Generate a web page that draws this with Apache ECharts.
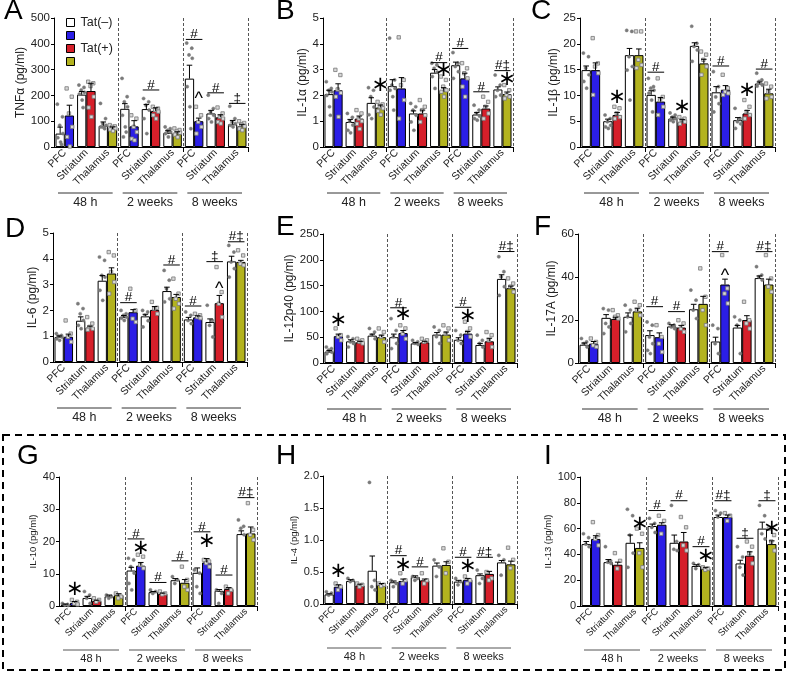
<!DOCTYPE html>
<html><head><meta charset="utf-8">
<script src="https://cdn.jsdelivr.net/npm/echarts@6/dist/echarts.min.js"></script>
<style>html,body{margin:0;padding:0;background:#fff}#c{width:789px;height:675px}</style>
</head><body><div id="c"></div>
<script>
// ---------- data ----------
const categories = ['PFC','Striatum','Thalamus','PFC','Striatum','Thalamus','PFC','Striatum','Thalamus'];
const timeLabels = ['48 h','2 weeks','8 weeks'];
const seriesNames = ['Tat(–)','Tat(+) PFC','Tat(+)','Tat(+) Thalamus'];

// A: TNFα
const tnfWhite = [52,203,82, 148,147,55, 265,130,88];
const tnfWhiteErr = [25,12,15, 20,18,8, 52,12,15];
const tnfPlus = [122,217,70, 80,140,52, 100,115,80];
const tnfPlusErr = [40,30,8, 22,12,7, 12,10,8];
const tnfWhitePts = [[166,117,84,52,36,19,10],[240,231,221,212,205,182,153],[169,110,91,84,78,76,71],[266,195,175,156,123,78,58,39],[188,175,162,143,110,52],[78,71,65,58,52,39],[403,383,357,344,234,156,71],[201,149,136,123,110,97],[158,110,97,91,84,78]];
const tnfPlusPts = [[227,195,130,78,39,2],[253,247,236,195,153,117],[85,80,78,72,68,62],[123,110,78,58,32,26],[156,149,143,137,123,110],[72,66,60,55,48,38],[156,123,97,78,52],[153,130,117,110,97,91],[100,93,88,80,71,65]];
const tnfAnn = [[4,221,'#','pair'],[6,417,'#','pair'],[6,201,'^','plus'],[7,210,'#','pair'],[8,169,'‡','pair']];

// B: IL-1α
const il1aWhite = [2.05,0.97,1.71, 2.36,1.3,2.88, 3.17,1.26,2.23];
const il1aWhiteErr = [0.15,0.1,0.2, 0.25,0.1,0.12, 0.12,0.08,0.1];
const il1aPlus = [2.2,1.1,1.53, 2.27,1.3,2.18, 2.66,1.49,2.05];
const il1aPlusErr = [0.25,0.1,0.1, 0.42,0.13,0.12, 0.2,0.1,0.08];
const il1aWhitePts = [[2.53,2.27,2.2,2.14,2.0,1.56,1.23],[1.3,1.15,1.0,0.85,0.65,0.55],[2.3,2.2,1.95,1.55,1.25,1.1],[4.22,2.6,2.4,2.27,2.2,1.95,1.43],[1.69,1.56,1.43,1.23,0.97,0.65],[3.25,3.18,3.05,2.9,2.73,2.27],[3.66,3.25,3.12,2.92,2.66],[1.62,1.43,1.3,1.2,1.1,1.04],[2.79,2.4,2.2,2.01,1.95]];
const il1aPlusPts = [[2.99,2.79,2.23,2.1,1.95,1.17],[1.43,1.3,1.1,1.0,0.9,0.7],[1.75,1.65,1.55,1.5,1.4,1.25],[4.25,2.6,2.4,1.82,1.1],[1.82,1.56,1.43,1.23,0.97],[2.73,2.6,2.34,2.2,2.14,1.95],[3.25,3.05,2.86,2.66,2.34,1.95],[1.95,1.75,1.56,1.3,1.1],[2.4,2.2,2.01,1.95,1.88]];
const il1aAnn = [[2,2.4,'*','plus'],[5,3.27,'#','pair'],[5,2.98,'*','plus'],[6,3.82,'#','pair'],[7,2.14,'#','pair'],[8,2.96,'#‡','pair'],[8,2.6,'*','plus']];

// C: IL-1β
const il1bWhite = [14.9,5.0,17.8, 10.1,5.5,19.6, 10.6,5.2,12.3];
const il1bWhiteErr = [0.8,0.4,1.3, 0.8,0.3,0.6, 1.1,0.5,0.3];
const il1bPlus = [14.9,6.2,17.8, 8.8,4.8,16.2, 11.1,6.5,10.4];
const il1bPlusErr = [1.4,0.5,1.2, 0.8,0.5,0.8, 0.8,0.6,0.8];
const il1bWhitePts = [[18.2,17.5,15.3,14,12.7,11.4],[6.2,5.5,4.9,4.2,3.9,3.6],[22.6,22.4,17.5,15.6,14.9,9.1],[13.3,11.7,11.4,11,10.4,9.1,6.8],[6.6,6.2,5.8,5.5,5.2,4.9],[23.4,20.1,19.5,18.8,16.6],[14.6,11.7,9.7,8.4,6.8],[7.5,5.5,4.9,4.5,3.6],[14.3,13,12.7,12,11.8]];
const il1bPlusPts = [[21.1,16.2,15.6,14.3,10.1],[7.8,7.5,6.5,5.8,5.5],[22.4,22.4,16.9,15.9,15.3],[13.3,9.7,9.1,7.8,6.2],[5.8,5.5,5.2,4.9,4.5],[18.5,17.9,16.9,15.6,14],[14,11.4,10.7,10.4,10.1],[9.1,7.8,6.8,6.2,5.5],[12.3,11.7,10.7,9.7,9.4]];
const il1bAnn = [[1,9.6,'*','plus'],[3,14.5,'#','pair'],[4,7.7,'*','plus'],[6,15.7,'#','pair'],[7,11.0,'*','plus'],[8,15.1,'#','pair']];

// D: IL-6
const il6White = [0.97,1.6,3.15, 1.75,1.77,2.75, 1.65,1.55,3.9];
const il6WhiteErr = [0.04,0.15,0.2, 0.05,0.08,0.15, 0.08,0.12,0.2];
const il6Plus = [0.98,1.33,3.43, 1.93,2.02,2.52, 1.73,2.28,3.88];
const il6PlusErr = [0.1,0.06,0.22, 0.1,0.13,0.1, 0.06,0.3,0.06];
const il6WhitePts = [[1.1,1.03,1.0,0.97,0.9,0.84],[2.26,2.07,1.87,1.61,1.42,1.29],[4.07,3.94,3.36,3.29,2.78,2.39],[2.0,1.87,1.81,1.74,1.7,1.61],[2.0,1.94,1.81,1.6,1.36],[3.55,3.17,2.84,2.45,2.33],[1.94,1.81,1.61,1.49],[2.2,1.61,1.42,0.97],[4.52,4.26,3.88,3.62,3.29]];
const il6PlusPts = [[1.61,1.1,0.97,0.78],[1.74,1.49,1.36,1.29,1.25],[4.26,4.13,3.49,3.1,2.65],[2.84,2.0,1.68,1.55],[2.33,2.1,2.07,1.87],[3.23,2.65,2.45,2.26,2.07],[1.87,1.81,1.74,1.7],[3.68,2.71,2.26,1.74],[4.33,4.13,3.81,3.75]];
const il6Ann = [[3,2.3,'#','pair'],[5,3.76,'#','pair'],[6,2.17,'#','pair'],[7,3.89,'‡','pair'],[7,2.98,'^','plus'],[8,4.66,'#‡','pair']];

// E: IL-12p40
const il12White = [22,42,53, 50,38,55, 45,35,163];
const il12WhiteErr = [2,3,3, 6,1.5,4, 4,3,8];
const il12Plus = [52,40,50, 58,40,55, 57,42,145];
const il12PlusErr = [4,2,4, 5,2,5, 4,6,4];
const il12WhitePts = [[31,28,25,21,18],[51,47,41,38,31],[67,60,54,47],[86,63,51,38,28],[44,41,38,36],[70,63,51,38],[63,54,44,38],[54,44,38,31],[206,177,167,148,131]];
const il12PlusPts = [[67,54,51,44],[47,44,41,38],[67,60,51,41],[73,67,57,47],[47,44,41],[73,67,57,44],[80,67,60,51],[60,54,44,31],[164,154,148,138]];
const il12Ann = [[0,83,'*','plus'],[3,107,'#','pair'],[3,93,'*','plus'],[6,108,'#','pair'],[6,90,'*','plus'],[8,216,'#‡','pair']];

// F: IL-17A
const il17White = [8.5,21,21.5, 13,17,25, 10,16.5,39.5];
const il17WhiteErr = [0.8,1.5,1.8, 2,0.8,2.3, 2,1,1];
const il17Plus = [9,20.5,24, 12,16.5,27.5, 36.5,20,36.5];
const il17PlusErr = [1,0.8,1.5, 2,1,3.5, 2.5,2,2.5];
const il17WhitePts = [[11.4,9.8,9,7.5],[25.3,24.6,18.4,16.8,13.7],[26.9,24.6,21.5,18.4,14.5],[19.1,17.6,12.1,9,5.9,4.4],[18.4,17.6,16.8,16],[33.9,29.2,24.6,20.7],[17.6,16,9,4.4],[21.5,19.9,17.6,4.4],[44.8,40.9,40.1,38.6]];
const il17PlusPts = [[11.4,9.8,8.2,7.5],[24.6,22.2,21.5,20.7],[28.5,26.9,24.6,22.2],[17.6,12.1,9,5.1],[19.9,18.4,16,14.5],[44,30.8,24.6,17.6],[50.2,34.7,32.3,27.7],[28.5,19.9,18.4,16],[50.2,39.3,35.5,33.1]];
const il17Ann = [[3,26.2,'#','pair'],[4,23.9,'#','pair'],[6,51.8,'#','pair'],[6,42.5,'^','plus'],[8,51.8,'#‡','pair']];

// G: IL-10
const il10White = [0.4,2.5,3, 11,4.3,8, 10.3,4.7,22.3];
const il10WhiteErr = [0.2,0.5,0.4, 1,0.2,0.5, 1.5,0.4,1];
const il10Plus = [1.0,1.6,3.4, 12.5,3.8,7.2, 13.5,5.3,22.5];
const il10PlusErr = [0.4,0.2,0.4, 1,0.2,1, 1.2,0.4,2];
const il10WhitePts = [[0.8,0.5,0.3,0.2],[4.5,3.4,2.4,0.8],[3.4,2.9,2.4],[14.8,14.3,12.2,10.2,7,5],[5,4.5,3.9],[9.1,8.1,7],[11.2,10.2,6,3.9],[5,3.9,0.8],[26.7,24.7,24.1,22.1]];
const il10PlusPts = [[1.9,1.3,0.8,0.5],[2.4,1.9,1.3],[3.9,2.9,2.4],[15.9,15.3,12.7,11.7],[4.5,3.9,3.6],[12.2,8.1,6,5],[14.3,13.8,13.3,12.2],[6,5,3.9],[31.9,23.6,22.1,20.5]];
const il10Ann = [[0,5,'*','plus'],[3,20.8,'#','pair'],[3,17.9,'*','plus'],[4,7.3,'#','pair'],[5,14,'#','pair'],[6,23,'#','pair'],[6,19.9,'*','plus'],[7,9.6,'#','pair'],[8,33.6,'#‡','pair']];

// H: IL-4
const il4White = [0.15,0.36,0.52, 0.34,0.42,0.6, 0.35,0.45,0.65];
const il4WhiteErr = [0.01,0.02,0.23, 0.02,0.02,0.04, 0.02,0.02,0.03];
const il4Plus = [0.27,0.29,0.3, 0.36,0.37,0.61, 0.38,0.47,0.62];
const il4PlusErr = [0.03,0.02,0.02, 0.03,0.02,0.05, 0.02,0.04,0.05];
const il4WhitePts = [[0.19,0.17,0.14],[0.4,0.37,0.35],[1.9,0.37,0.27,0.22],[0.37,0.32,0.27],[0.43,0.4,0.37],[0.69,0.58,0.43],[0.4,0.35,0.3],[0.53,0.4,0.32],[0.76,0.69,0.45]];
const il4PlusPts = [[0.32,0.27,0.22],[0.32,0.3,0.27],[0.32,0.3,0.28],[0.48,0.37,0.32],[0.48,0.37,0.32],[0.87,0.66,0.48],[0.43,0.37,0.32],[0.5,0.4,0.37],[0.88,0.69,0.56]];
const il4Ann = [[0,0.5,'*','plus'],[3,0.755,'#','pair'],[3,0.6,'*','plus'],[4,0.58,'#','pair'],[6,0.73,'#','pair'],[6,0.58,'*','plus'],[7,0.73,'#‡','pair']];

// I: IL-13
const il13White = [48,34,49, 62,49,31, 69,33,60];
const il13WhiteErr = [2,2,6, 1.5,6,1, 1.5,2.5,5];
const il13Plus = [52,32,45, 63,50,29, 69,39,48];
const il13PlusErr = [2.5,2,4, 1.5,7,1, 1.5,3,2.5];
const il13WhitePts = [[56,53,48,46],[46,35,34,33],[75,70,55,41,30],[68,64,61,57],[78,50,44,43],[33,32,29],[74,72,69],[46,38,30,24],[78,70,56,52]];
const il13PlusPts = [[65,55,52,47],[41,35,29],[60,56,41,30],[70,66,56],[69,61,47,43],[30,29,28],[72,70,66],[50,46,41,33],[60,55,50,43]];
const il13Ann = [[2,63,'*','plus'],[3,74,'#','pair'],[4,81.6,'#','pair'],[5,46,'#','pair'],[5,38,'*','plus'],[6,81.6,'#‡','pair'],[7,52.5,'‡','pair'],[8,81.6,'‡','pair'],[8,60,'*','plus']];

// ---------- layout ----------
const FONT = 'Liberation Sans, Arial, sans-serif';
const COLORS = ['#ffffff','#2b1ee6','#d61f2a','#b3b31f'];
const GAP = 0.14;
const panels = [
 {letter:'A', name:'TNFα (pg/ml)', max:500, interval:100, white:tnfWhite, whiteErr:tnfWhiteErr, plus:tnfPlus, plusErr:tnfPlusErr, wp:tnfWhitePts, pp:tnfPlusPts, ann:tnfAnn, left:54, right:248, top:18, bottom:147, nameGap:22, row:0},
 {letter:'B', name:'IL-1α (pg/ml)', max:5, interval:1, white:il1aWhite, whiteErr:il1aWhiteErr, plus:il1aPlus, plusErr:il1aPlusErr, wp:il1aWhitePts, pp:il1aPlusPts, ann:il1aAnn, left:323, right:513, top:18, bottom:147, nameGap:11, row:0},
 {letter:'C', name:'IL-1β (pg/ml)', max:25, interval:5, white:il1bWhite, whiteErr:il1bWhiteErr, plus:il1bPlus, plusErr:il1bPlusErr, wp:il1bWhitePts, pp:il1bPlusPts, ann:il1bAnn, left:580, right:775, top:18, bottom:147, nameGap:17, row:0},
 {letter:'D', name:'IL-6 (pg/ml)', max:5, interval:1, white:il6White, whiteErr:il6WhiteErr, plus:il6Plus, plusErr:il6PlusErr, wp:il6WhitePts, pp:il6PlusPts, ann:il6Ann, left:53, right:247, top:233, bottom:362, nameGap:11, row:1},
 {letter:'E', name:'IL-12p40 (pg/ml)', max:250, interval:50, white:il12White, whiteErr:il12WhiteErr, plus:il12Plus, plusErr:il12PlusErr, wp:il12WhitePts, pp:il12PlusPts, ann:il12Ann, left:323, right:517, top:234, bottom:363, nameGap:25, row:1},
 {letter:'F', name:'IL-17A (pg/ml)', max:60, interval:20, white:il17White, whiteErr:il17WhiteErr, plus:il17Plus, plusErr:il17PlusErr, wp:il17WhitePts, pp:il17PlusPts, ann:il17Ann, left:578, right:775, top:234, bottom:363, nameGap:16, row:1},
 {letter:'G', name:'IL-10 (pg/ml)', max:40, interval:10, white:il10White, whiteErr:il10WhiteErr, plus:il10Plus, plusErr:il10PlusErr, wp:il10WhitePts, pp:il10PlusPts, ann:il10Ann, left:59, right:257, top:477, bottom:606, nameGap:21, row:2},
 {letter:'H', name:'IL-4 (pg/ml)', max:2, interval:0.5, white:il4White, whiteErr:il4WhiteErr, plus:il4Plus, plusErr:il4PlusErr, wp:il4WhitePts, pp:il4PlusPts, ann:il4Ann, left:323, right:517, top:476, bottom:604, nameGap:20, row:2, fmt:v=>v.toFixed(1)},
 {letter:'I', name:'IL-13 (pg/ml)', max:100, interval:20, white:il13White, whiteErr:il13WhiteErr, plus:il13Plus, plusErr:il13PlusErr, wp:il13WhitePts, pp:il13PlusPts, ann:il13Ann, left:580, right:778, top:477, bottom:606, nameGap:25, row:2}
];
const letterPos = [[4,12.5],[276,12.5],[531,12.5],[5,230],[276,228],[534,228],[17,457],[276,457],[544,457]];

const sepAt = (idx) => idx === 3 || idx === 6;

const grid = [], xAxis = [], yAxis = [], series = [];
panels.forEach((p, i) => {
  const small = p.row === 2;
  grid.push({left:p.left, top:p.top, width:p.right - p.left, height:p.bottom - p.top});
  xAxis.push({
    gridIndex:i, type:'category', data:categories, boundaryGap:true,
    axisLine:{lineStyle:{color:'#000', width:1}},
    axisTick:{show:true, interval:(idx)=>sepAt(idx), length:5, lineStyle:{color:'#000'}},
    axisLabel:{interval:0, rotate:45, fontSize: small ? 9.5 : 10.5, color:'#222', fontFamily:FONT, margin:4},
    splitLine:{show:true, interval:(idx)=>sepAt(idx), lineStyle:{type:[3,2], color:'#555', width:1}}
  });
  yAxis.push({
    gridIndex:i, type:'value', min:0, max:p.max, interval:p.interval,
    name:p.name, nameLocation:'middle', nameRotate:90, nameGap:p.nameGap,
    nameTextStyle:{fontSize: small ? 9.5 : 12, color:'#222', fontFamily:FONT},
    axisLine:{show:true, lineStyle:{color:'#000', width:1}},
    axisTick:{show:true, length:3, lineStyle:{color:'#000'}},
    axisLabel:{fontSize: small ? 11 : 11.5, color:'#222', fontFamily:FONT, margin:4, formatter:p.fmt},
    splitLine:{show:false}
  });
  const common = {type:'bar', xAxisIndex:i, yAxisIndex:i, barGap:'0%', barCategoryGap:(GAP*100)+'%', animation:false};
  series.push(Object.assign({}, common, {name:seriesNames[0], data:p.white,
    itemStyle:{color:COLORS[0], borderColor:'#000', borderWidth:1}}));
  for (let r = 0; r < 3; r++) {
    series.push(Object.assign({}, common, {name:seriesNames[r+1], stack:'plus'+i,
      data:p.plus.map((v,k)=> k % 3 === r ? v : '-'),
      itemStyle:{color:COLORS[r+1], borderColor:'#000', borderWidth:1}}));
  }
  // individual animals (circles on Tat(-), squares on Tat(+))
  const ptData = [];
  for (let k = 0; k < 9; k++) {
    p.wp[k].forEach((v, j) => ptData.push([k, v, 0, j, p.wp[k].length]));
    p.pp[k].forEach((v, j) => ptData.push([k, v, 1, j, p.pp[k].length]));
  }
  series.push({type:'custom', xAxisIndex:i, yAxisIndex:i, data:ptData, encode:{x:0, y:1}, clip:false, silent:true, z:4, animation:false,
    renderItem:(params, api) => {
      const c = api.coord([api.value(0), api.value(1)]);
      const slot = api.value(2), j = api.value(3);
      const bw = api.size([1,0])[0] * (1 - GAP) / 2;
      const spread = [-0.3, 0.25, -0.05, 0.3, -0.25, 0.05, 0.15, -0.15][j % 8];
      const x = c[0] + (slot === 0 ? -bw/2 : bw/2) + spread * bw;
      if (slot === 0) return {type:'circle', shape:{cx:x, cy:c[1], r:1.6}, style:{fill:'#7a7a7a', stroke:'#7a7a7a', lineWidth:0.5}};
      return {type:'rect', shape:{x:x-1.7, y:c[1]-1.7, width:3.4, height:3.4}, style:{fill:'#d8d8d8', stroke:'#777', lineWidth:0.8}};
    }});
  // error bars
  const errData = [];
  for (let k = 0; k < 9; k++) { errData.push([k, p.white[k], p.whiteErr[k], 0]); errData.push([k, p.plus[k], p.plusErr[k], 1]); }
  series.push({type:'custom', xAxisIndex:i, yAxisIndex:i, data:errData, encode:{x:0, y:1}, clip:false, silent:true, z:5, animation:false,
    renderItem:(params, api) => {
      const cat = api.value(0), top = api.value(1), err = api.value(2), slot = api.value(3);
      const p0 = api.coord([cat, top]), p1 = api.coord([cat, top + err]);
      const bw = api.size([1,0])[0] * (1 - GAP) / 2;
      const x = p0[0] + (slot === 0 ? -bw/2 : bw/2);
      const cap = bw * 0.3;
      return {type:'group', children:[
        {type:'line', shape:{x1:x, y1:p0[1], x2:x, y2:p1[1]}, style:{stroke:'#000', lineWidth:1}},
        {type:'line', shape:{x1:x-cap, y1:p1[1], x2:x+cap, y2:p1[1]}, style:{stroke:'#000', lineWidth:1}}
      ]};
    }});
  // significance annotations
  const ann = p.ann;
  series.push({type:'custom', xAxisIndex:i, yAxisIndex:i, data:ann.map(a=>[a[0], a[1]]), encode:{x:0, y:1}, clip:false, silent:true, z:6, animation:false,
    renderItem:(params, api) => {
      const a = ann[params.dataIndex];
      const c = api.coord([api.value(0), api.value(1)]);
      const bw = api.size([1,0])[0] * (1 - GAP) / 2;
      if (a[3] === 'pair') {
        return {type:'group', children:[
          {type:'line', shape:{x1:c[0]-bw+1, y1:c[1], x2:c[0]+bw-1, y2:c[1]}, style:{stroke:'#000', lineWidth:1}},
          {type:'text', style:{text:a[2], x:c[0], y:c[1]+2, textAlign:'center', textVerticalAlign:'bottom', font:'13.5px '+FONT, fill:'#000'}}
        ]};
      }
      const isStar = a[2] === '*';
      const fs = isStar ? 21 : 18;
      return {type:'text', style:{text: isStar ? '∗' : a[2], x:c[0]+bw/2, y:c[1] + (isStar ? 0 : fs*0.22), textAlign:'center', textVerticalAlign:'middle',
        font: fs + 'px ' + (isStar ? 'DejaVu Sans' : FONT), fill:'#000'}};
    }});
  // time group labels
  const off = p.row === 2 ? 44 : 46;
  series.push({type:'custom', xAxisIndex:i, yAxisIndex:i, data:[[1,0],[4,0],[7,0]], encode:{x:0, y:1}, clip:false, silent:true, animation:false,
    renderItem:(params, api) => {
      const c = api.coord([api.value(0), 0]);
      const cw = api.size([1,0])[0];
      const y = c[1] + off;
      return {type:'group', children:[
        {type:'line', shape:{x1:c[0]-1.5*cw+4, y1:y, x2:c[0]+1.5*cw-6, y2:y}, style:{stroke: small ? '#555' : '#333', lineWidth:1}},
        {type:'text', style:{text:timeLabels[params.dataIndex], x:c[0]-1, y:y+3, textAlign:'center', textVerticalAlign:'top', font:(small?11:12.5)+'px '+FONT, fill:'#222'}}
      ]};
    }});
});

const graphic = panels.map((p, i) => ({type:'text', left:letterPos[i][0], top:letterPos[i][1]-15,
  style:{text:p.letter, font:'28px '+FONT, fill:'#000'}}));
graphic.push({type:'rect', shape:{x:3, y:435, width:782, height:235}, style:{fill:'none', stroke:'#000', lineWidth:2, lineDash:[7,5]}});

const chart = echarts.init(document.getElementById('c'), null, {renderer:'canvas'});
chart.setOption({
  animation:false,
  grid, xAxis, yAxis, series, graphic,
  legend:{data:seriesNames, orient:'vertical', left:61, top:11, itemWidth:8, itemHeight:8, itemGap:2, icon:'rect',
    selectedMode:false, textStyle:{fontSize:12.5, color:'#222', fontFamily:FONT, padding:[0,0,0,1]},
    itemStyle:{borderColor:'#000', borderWidth:1},
    formatter:(n)=> (n === 'Tat(–)' || n === 'Tat(+)') ? n : ''}
});
</script></body></html>
